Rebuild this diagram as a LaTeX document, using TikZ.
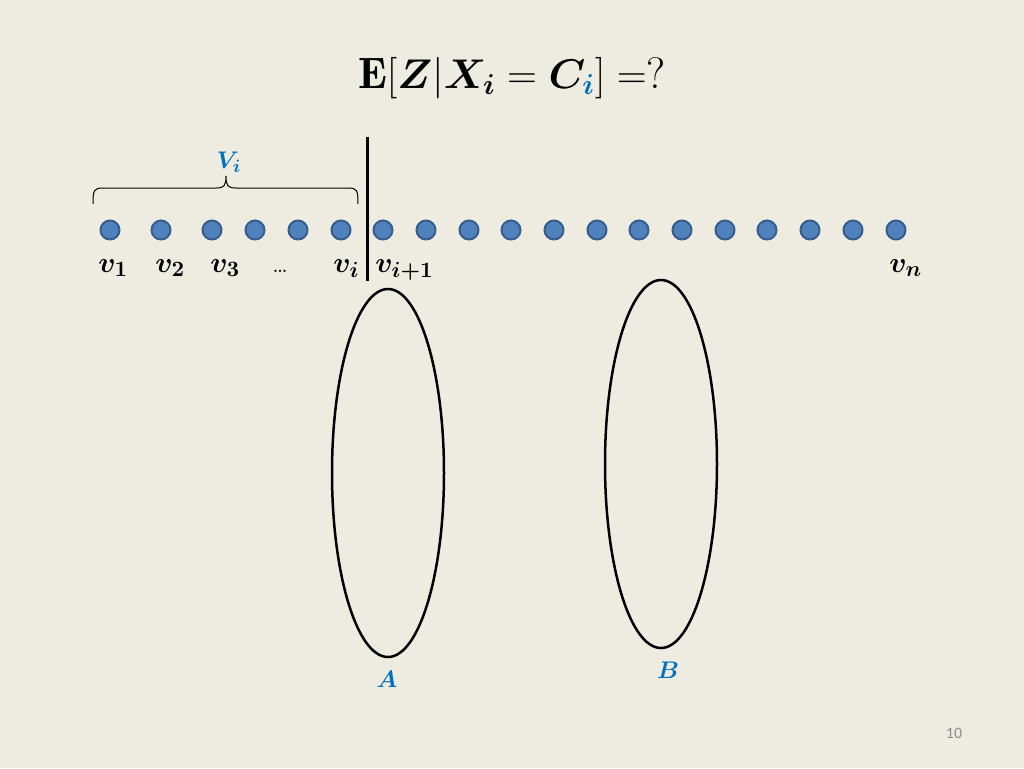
\documentclass[tikz,border=0pt]{standalone}
\usepackage{amsmath,amssymb,bm}
\usepackage{fontspec}
\newfontfamily\pagefont{Carlito}
\definecolor{slidebg}{RGB}{238,236,225}
\definecolor{dotblue}{RGB}{79,129,189}
\definecolor{dotedge}{RGB}{56,93,138}
\definecolor{labblue}{RGB}{0,112,192}
\tikzset{
  vertex/.style={circle,fill=dotblue,draw=dotedge,line width=1pt,minimum size=9.5pt,inner sep=0pt},
  vlabel/.style={anchor=base west,inner sep=0pt,font=\fontsize{15}{15}\selectfont},
  setlabel/.style={anchor=base,inner sep=0pt,text=labblue,font=\fontsize{12}{12}\selectfont}
}
\begin{document}
\begin{tikzpicture}[x=0.5pt,y=-0.5pt]
    \fill[slidebg] (0,0) rectangle (1024,768);
    \useasboundingbox (0,0) rectangle (1024,768);
    % title
    \node[anchor=base,inner sep=0pt,font=\fontsize{22}{22}\selectfont] (title) at (512,88)
        {$\mathbf{E}[\bm{Z}|\bm{X}_{\bm{i}}=\bm{C}_{\color{labblue}\bm{i}}]=$?};
    % the vertices
    \foreach \k/\xx in {1/110,2/161,3/212,4/255,5/298,6/341,7/383,8/426,9/469,10/511,
                        11/554,12/597,13/639,14/682,15/725,16/767,17/810,18/853,19/896}
        \node[vertex] (v\k) at (\xx,230) {};
    \node[vlabel] (l1) at (98,272) {$\bm{v}_{\bm{1}}$};
    \node[vlabel] (l2) at (155,272) {$\bm{v}_{\bm{2}}$};
    \node[vlabel] (l3) at (210,272) {$\bm{v}_{\bm{3}}$};
    \node[vlabel,font=\fontsize{12}{12}\selectfont] (ldots) at (272,272) {\dots};
    \node[vlabel] (li) at (333,272) {$\bm{v}_{\bm{i}}$};
    \node[vlabel] (li1) at (375,272) {$\bm{v}_{\bm{i+1}}$};
    \node[vlabel] (ln) at (889,272) {$\bm{v}_{\bm{n}}$};
    % cut
    \coordinate (cuttop) at (367,137);
    \coordinate (cutbot) at (367,281);
    \draw[line width=1.5pt] (cuttop) -- (cutbot);
    % brace over v_1..v_i
    \coordinate (braceL) at (93,204);
    \coordinate (braceR) at (358,204);
    \coordinate (braceT) at (226,176);
    \draw[line width=0.5pt] (braceL) .. controls (93,190) and (94,188) .. (103,188) -- (216,188)
        .. controls (224,188) and (226,186) .. (braceT)
        .. controls (226,186) and (228,188) .. (236,188) -- (348,188)
        .. controls (357,188) and (358,190) .. (braceR);
    \node[setlabel,font=\fontsize{13}{13}\selectfont] (Vi) at (229,168) {$\bm{V}_{\bm{i}}$};
    % the two sets
    \draw[line width=1.25pt] (388,473) ellipse [x radius=56,y radius=184];
    \draw[line width=1.25pt] (661,464) ellipse [x radius=56,y radius=184];
    \node[setlabel] (A) at (387,687) {$\bm{A}$};
    \node[setlabel] (B) at (668,678) {$\bm{B}$};
    \node[text=black!45,font=\pagefont\fontsize{8}{8}\selectfont] (page) at (954,733) {10};
\end{tikzpicture}
\end{document}
